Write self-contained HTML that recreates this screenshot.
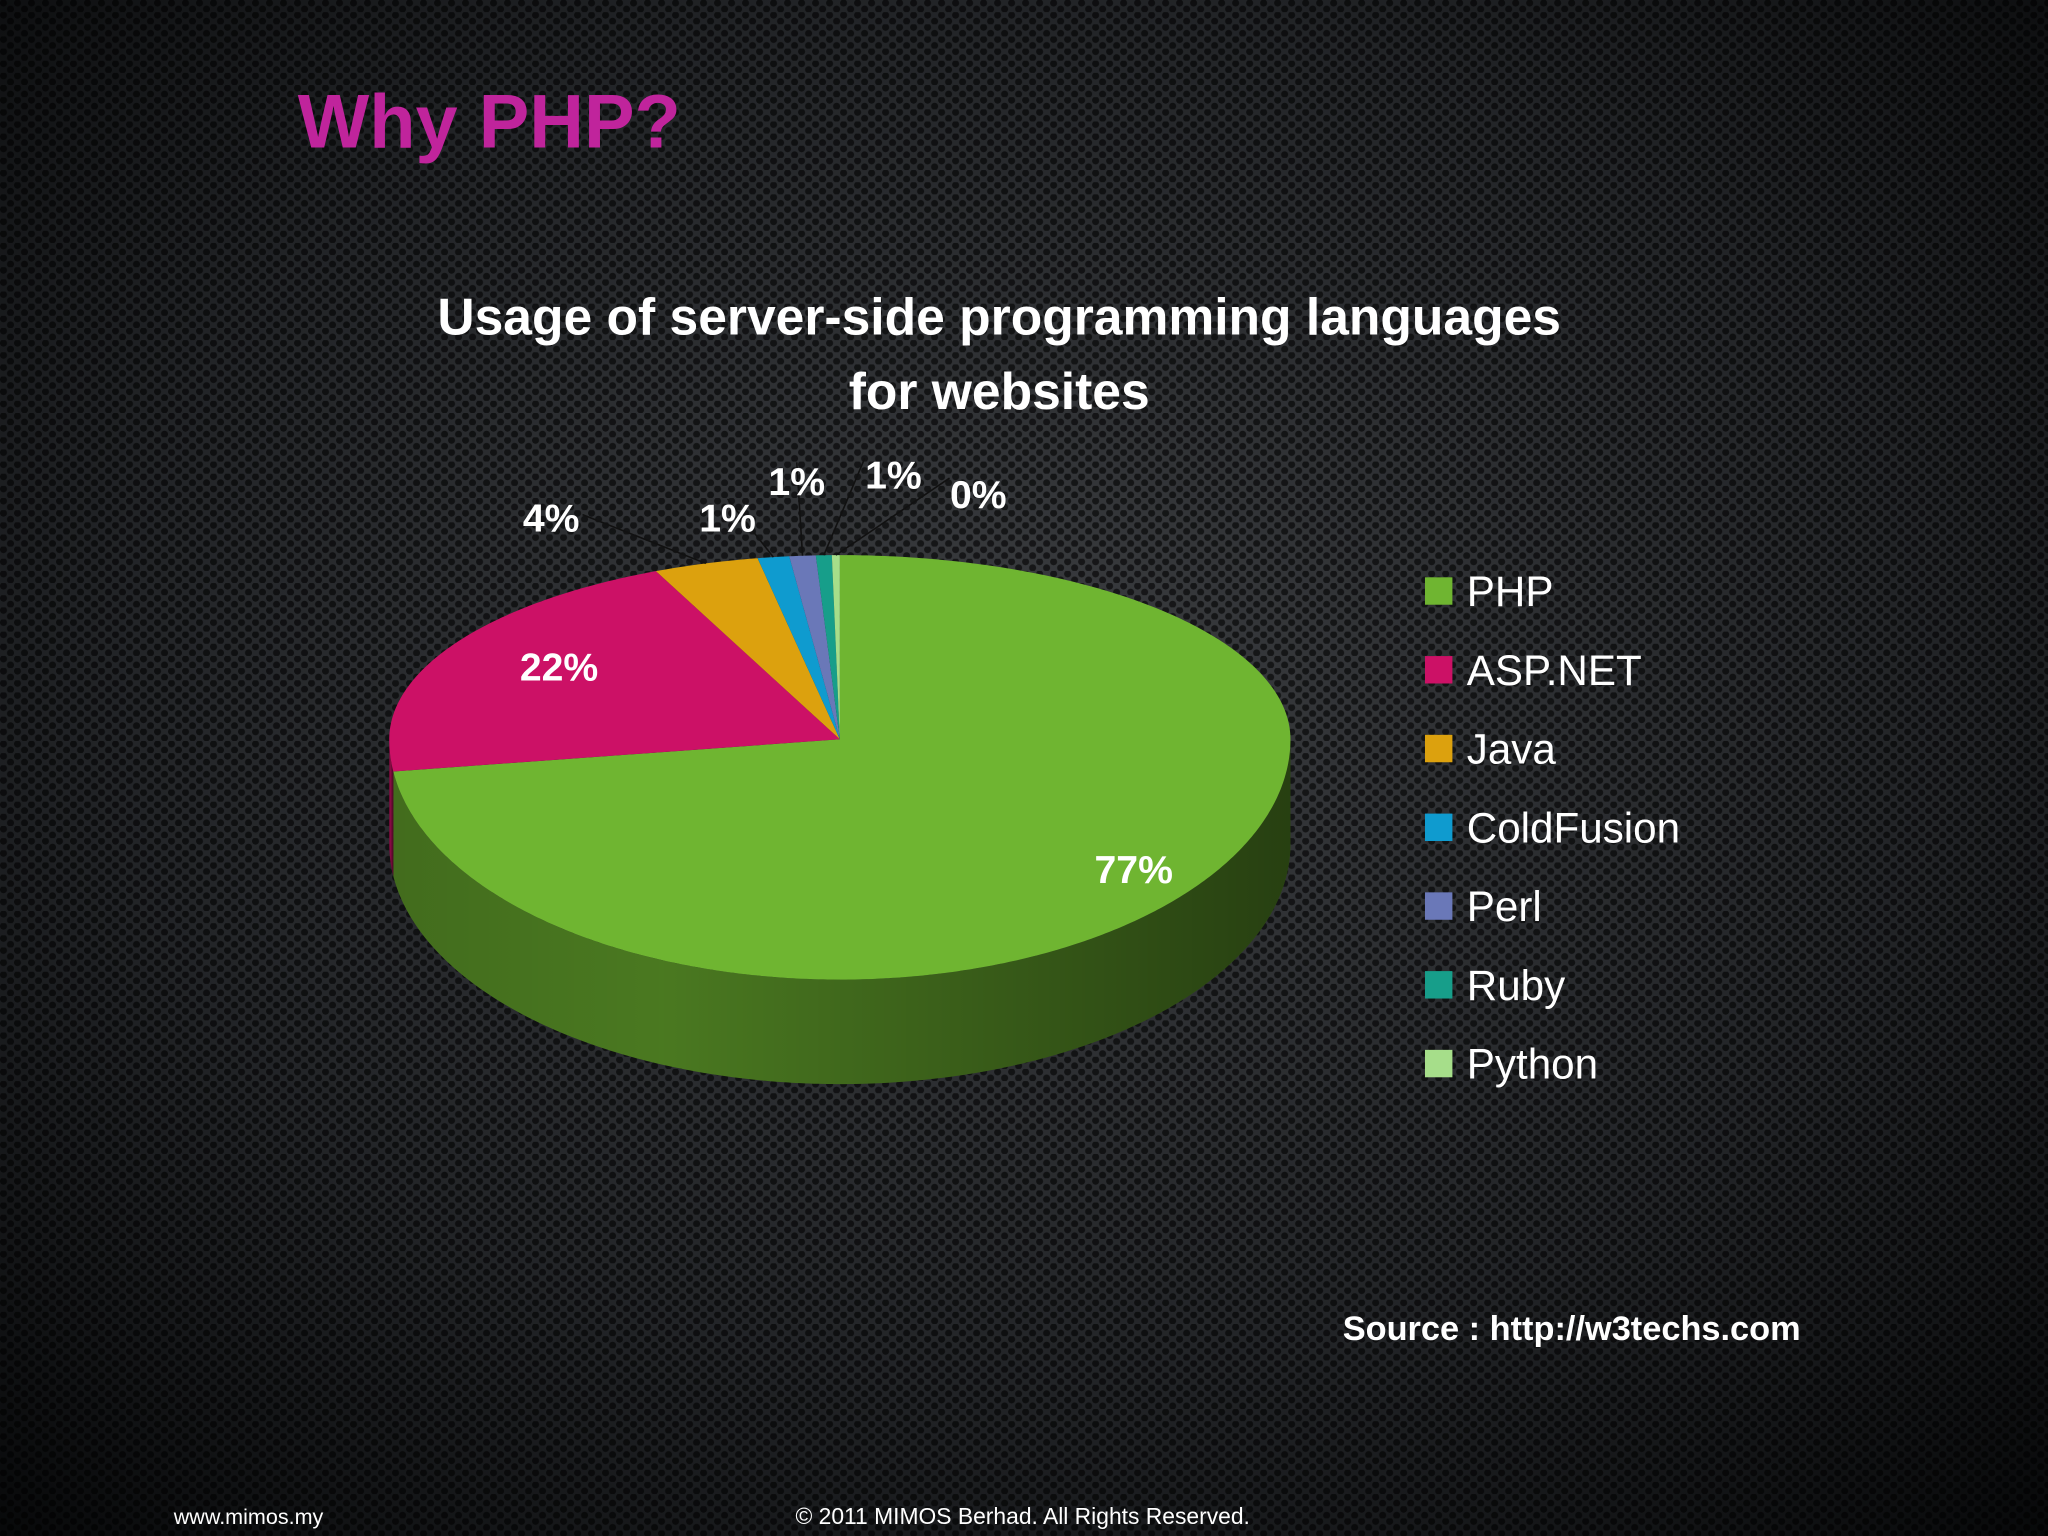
<!DOCTYPE html>
<html><head><meta charset="utf-8"><style>
html,body{margin:0;padding:0;background:#111;}
svg{display:block;}
</style></head><body>
<svg width="2048" height="1536" viewBox="0 0 1568 1176" xmlns="http://www.w3.org/2000/svg">
<defs>
<radialGradient id="bg" cx="0.5" cy="0.45" r="0.75">
<stop offset="0" stop-color="#3b3d40"/><stop offset="0.6" stop-color="#222427"/><stop offset="1" stop-color="#070809"/>
</radialGradient>
<pattern id="hex" width="10.72" height="9.3" patternUnits="userSpaceOnUse">
<circle cx="2.68" cy="2.3" r="2.7" fill="#000" opacity="0.6"/>
<circle cx="8.04" cy="6.95" r="2.7" fill="#000" opacity="0.6"/>
</pattern>
<linearGradient id="sideShade" x1="0" x2="1" y1="0" y2="0">
<stop offset="0" stop-color="#000" stop-opacity="0.15"/>
<stop offset="0.3" stop-color="#000" stop-opacity="0.05"/>
<stop offset="1" stop-color="#000" stop-opacity="0.5"/>
</linearGradient>
</defs>
<rect width="1568" height="1176" fill="url(#bg)"/>
<rect width="1568" height="1176" fill="url(#hex)"/>
<text x="228" y="113" font-family="Liberation Sans, sans-serif" font-weight="bold" font-size="58" fill="#c0249c">Why PHP?</text>
<text text-anchor="middle" font-family="Liberation Sans, sans-serif" font-weight="bold" font-size="39.5" fill="#fff"><tspan x="765" y="256">Usage of server-side programming languages</tspan><tspan x="765" y="313">for websites</tspan></text>
<g id="pie"></g>
<g id="legend"></g>
<text x="1028" y="1026" font-family="Liberation Sans, sans-serif" font-weight="bold" font-size="26.3" fill="#fff">Source : http://w3techs.com</text>
<text x="133" y="1167" font-family="Liberation Sans, sans-serif" font-size="16.5" fill="#fff">www.mimos.my</text>
<text x="783" y="1167" text-anchor="middle" font-family="Liberation Sans, sans-serif" font-size="17.5" fill="#fff">© 2011 MIMOS Berhad. All Rights Reserved.</text>
</svg>
<script>
const categories = ["PHP","ASP.NET","Java","ColdFusion","Perl","Ruby","Python"];
const values = [77.3,21.7,4.0,1.2,1.0,0.6,0.3];
const valueLabels = ["77%","22%","4%","1%","1%","1%","0%"];
const colors = ["#6fb531","#cc1166","#dca10e","#0f9bcf","#6a78b8","#179e8a","#a6de8a"];
const labelPos = [[868,665],[428,510],[422,396],[557,396],[610,368],[684,363],[749,378]];
const NS="http://www.w3.org/2000/svg";
const cx=643, cy=566, rx=345, ryBack=141, ryFront=184, depth=80;
function pt(a,dy){const c=Math.cos(a);const ry=c>0?ryBack:ryFront;return [cx+rx*Math.sin(a), cy-ry*c+(dy||0)];}
function arc(a0,a1,dy){const n=Math.max(2,Math.ceil((a1-a0)/0.01));const out=[];for(let k=0;k<=n;k++){out.push(pt(a0+(a1-a0)*k/n,dy));}return out;}
function mk(tag,attrs,parent){const e=document.createElementNS(NS,tag);for(const k in attrs)e.setAttribute(k,attrs[k]);parent.appendChild(e);return e;}
function shade(hex,f){const n=parseInt(hex.slice(1),16);const r=(n>>16)&255,g=(n>>8)&255,b=n&255;return `rgb(${Math.round(r*f)},${Math.round(g*f)},${Math.round(b*f)})`;}
const pie=document.getElementById('pie');
const total=values.reduce((a,b)=>a+b,0);
let acc=0; const slices=[];
values.forEach((v,i)=>{const a0=acc/total*2*Math.PI; acc+=v; const a1=acc/total*2*Math.PI; slices.push([a0,a1]);});
slices.forEach(([a0,a1],i)=>{
  const s=Math.max(a0,Math.PI/2), e=Math.min(a1,3*Math.PI/2);
  if(e<=s) return;
  const top=arc(s,e,0), bot=arc(s,e,depth).reverse();
  const d='M'+top.concat(bot).map(p=>p[0].toFixed(2)+','+p[1].toFixed(2)).join(' L')+' Z';
  const side=mk('path',{d:d,fill:shade(colors[i],0.7)},pie);
  
  
  const sh=mk('path',{d:d,fill:'url(#sideShade)'},pie);
  
  
});
slices.forEach(([a0,a1],i)=>{
  const pts=[[cx,cy]].concat(arc(a0,a1,0));
  const d='M'+pts.map(p=>p[0].toFixed(2)+','+p[1].toFixed(2)).join(' L')+' Z';
  const sl=mk('path',{d:d,fill:colors[i]},pie);
  
  
});
slices.forEach(([a0,a1],i)=>{
  const [lx,ly]=labelPos[i];
  if(i>=2){
    const m=(a0+a1)/2; const e=pt(m);
    const ln=mk('polyline',{points:`${lx+(i===2?24:(i>=5?-22:0))},${ly-(i===2?2:(i>=5?12:14))} ${e}`,fill:'none',stroke:'#111',"stroke-width":1.2},pie);
    
    
  }
  const t=mk('text',{x:lx,y:ly+11,"text-anchor":"middle","font-family":"Liberation Sans, sans-serif","font-weight":"bold","font-size":30,fill:"#fff"},pie);
  t.textContent=valueLabels[i];
  
  
});
const lg=document.getElementById('legend');
categories.forEach((c,i)=>{
  const y=452+i*60.3;
  const r=mk('rect',{x:1091,y:y-10,width:21,height:21,fill:colors[i]},lg);
  
  
  const t=mk('text',{x:1123,y:y+12,"font-family":"Liberation Sans, sans-serif","font-size":32.3,fill:"#fff"},lg);
  t.textContent=c;
  
  
});
</script>
</body></html>
